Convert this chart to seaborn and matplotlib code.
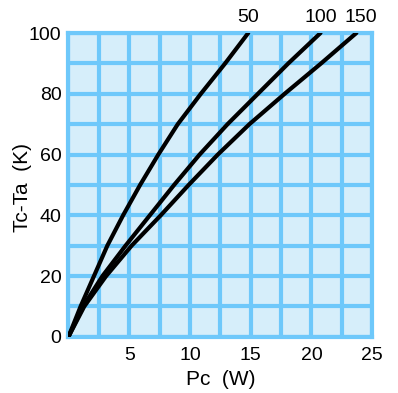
import pandas as pd
import matplotlib.pyplot as plt
import seaborn as sns

# values
tc_ta = [0, 10, 20, 30, 40, 50, 60, 70, 80, 90, 100]
pc_50 = [0, 1.0, 2.1, 3.2, 4.5, 5.9, 7.4, 9.0, 10.9, 12.9, 14.8]
pc_100 = [0, 1.2, 2.8, 4.7, 6.7, 8.7, 10.8, 13.1, 15.6, 18.1, 20.75]
pc_150 = [0, 1.3, 3.1, 5.2, 7.6, 9.9, 12.3, 14.9, 17.8, 20.8, 23.7]
curve_labels = ["50", "100", "150"]

rows = []
for lab, pcs in zip(curve_labels, [pc_50, pc_100, pc_150]):
    for p, t in zip(pcs, tc_ta):
        rows.append({"Pc": p, "TcTa": t, "curve": lab})
df = pd.DataFrame(rows)

sns.set_style("white")
plt.rcParams["font.family"] = ["Liberation Sans", "DejaVu Sans"]
plt.rcParams["text.color"] = "black"
plt.rcParams["axes.labelcolor"] = "black"
plt.rcParams["xtick.color"] = "black"
plt.rcParams["ytick.color"] = "black"

grid_blue = "#6EC8FA"
fig = plt.figure(figsize=(3.98, 3.93), dpi=100)
ax = fig.add_axes([0.172, 0.143, 0.763, 0.773])
ax.set_facecolor("#D6EEFA")

sns.lineplot(data=df, x="Pc", y="TcTa", hue="curve", units="curve",
             estimator=None, sort=False, palette=["black"] * 3,
             linewidth=3, legend=False, ax=ax, zorder=3)

ax.set_xlim(0, 25)
ax.set_ylim(0, 100)
ax.set_xticks([5, 10, 15, 20, 25])
ax.set_xticks([0, 2.5, 7.5, 12.5, 17.5, 22.5], minor=True)
ax.set_yticks([0, 20, 40, 60, 80, 100])
ax.set_yticks([10, 30, 50, 70, 90], minor=True)
ax.grid(True, which="both", color=grid_blue, linewidth=3)
ax.set_axisbelow(True)
for s in ax.spines.values():
    s.set_color(grid_blue)
    s.set_linewidth(3)
ax.tick_params(which="both", length=0, labelsize=14)
ax.tick_params(axis="x", pad=7)
ax.tick_params(axis="y", pad=5)

ax.set_xlabel("Pc  (W)", fontsize=15)
ax.set_ylabel("Tc-Ta  (K)", fontsize=15)
ax.xaxis.set_label_coords(0.5, -0.11)
ax.yaxis.set_label_coords(-0.12, 0.49)

for lab, pcs, dx in zip(curve_labels, [pc_50, pc_100, pc_150], [0, 0, 3]):
    ax.annotate(lab, (pcs[-1], tc_ta[-1]), xytext=(dx, 5),
                textcoords="offset points", ha="center", va="bottom",
                fontsize=14, annotation_clip=False)

fig.savefig("out.png", dpi=100)
